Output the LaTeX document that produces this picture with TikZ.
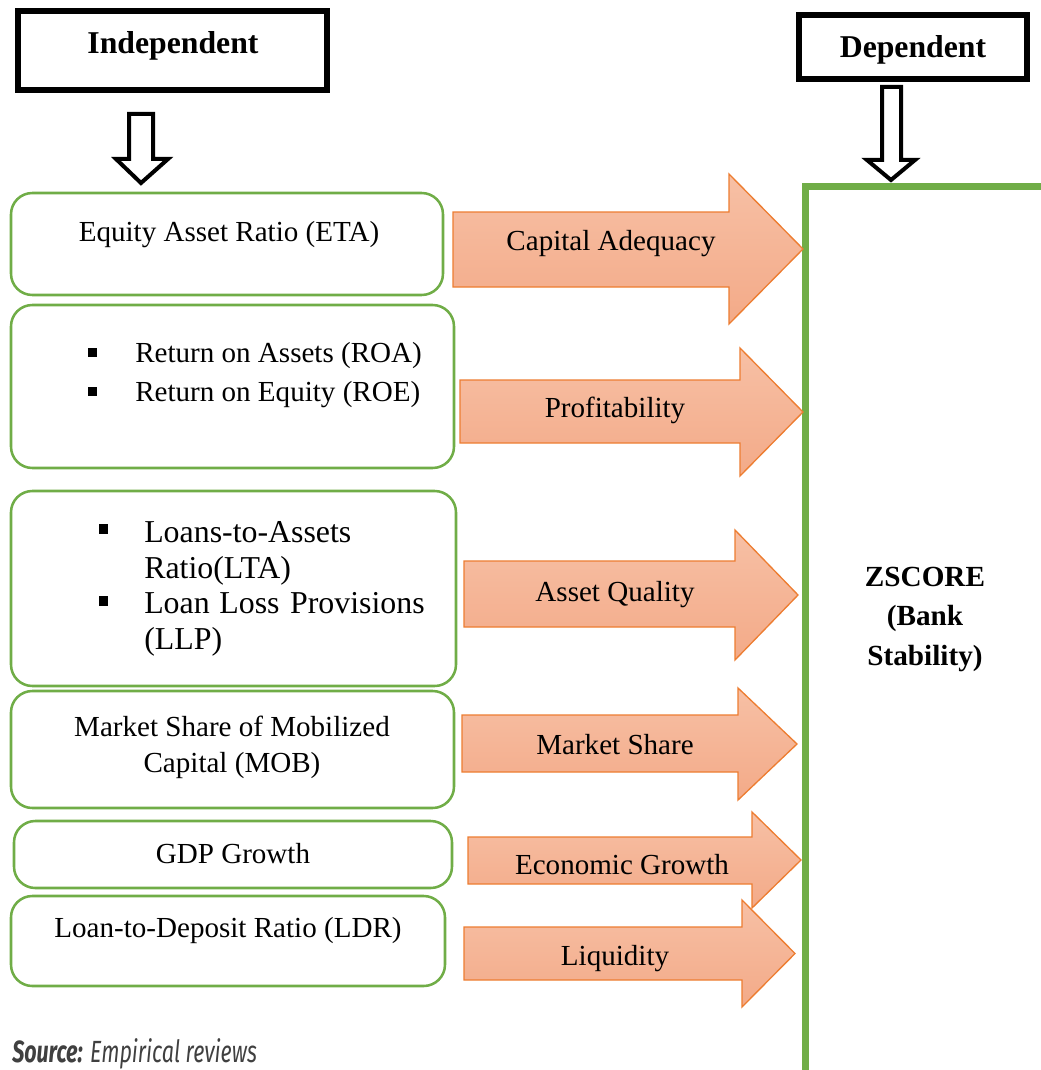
\documentclass[tikz,border=0pt]{standalone}
\usepackage{fontspec}
\usepackage{graphicx}
\setmainfont{Liberation Serif}
\newfontfamily\srcfont{Fira Sans}
\definecolor{grn}{HTML}{70AD47}
\definecolor{orline}{HTML}{ED7D31}
\definecolor{ortop}{HTML}{F7C0A5}
\definecolor{orbot}{HTML}{F3AA88}
\definecolor{srcgray}{HTML}{404040}
\tikzset{
  gbox/.style={draw=grn, line width=1.9pt, rounded corners=16pt},
  bigbox/.style={draw=grn, line width=5.25pt},
  headbox/.style={draw=black, line width=4.5pt},
  hollow/.style={draw=black, line width=3pt, line join=miter, fill=white},
  oarrow/.style={draw=orline, line width=1pt, top color=ortop, bottom color=orbot, line join=miter},
  txt/.style={inner sep=0pt, font=\fontsize{21.8}{26}\selectfont},
  bigtxt/.style={inner sep=0pt, font=\fontsize{23.9}{28}\selectfont},
  headtxt/.style={inner sep=0pt, font=\fontsize{23.8}{28}\selectfont\bfseries},
  ztxt/.style={inner sep=0pt, font=\fontsize{21.9}{26}\selectfont\bfseries},
  bul/.style={fill=black, minimum size=7.2pt, inner sep=0pt},
}
% #1 name, #2 body left, #3 head base x, #4 body top, #5 body bottom, #6 head top, #7 head bottom, #8 tip x
\newcommand\orarrow[8]{%
  \coordinate (#1tail) at (#2,{(#4+#5)/2});
  \coordinate (#1tip) at (#8,{(#6+#7)/2});
  \draw[oarrow] (#2,#4) -- (#3,#4) -- (#3,#6) -- (#1tip) -- (#3,#7) -- (#3,#5) -- (#2,#5) -- cycle;
}
\begin{document}
\begin{tikzpicture}[x=0.75pt,y=-0.75pt]
\useasboundingbox (0,0) rectangle (1040,1070);

% dependent big box
\draw[bigbox] (805,186) rectangle (1060,1090);
\node[ztxt, anchor=base] (z1) at (925,586) {ZSCORE};
\node[ztxt, anchor=base] (z2) at (925,625) {(Bank};
\node[ztxt, anchor=base] (z3) at (925,665) {Stability)};

% heading boxes
\draw[headbox] (18,11) rectangle (327,90);
\node[headtxt, anchor=base] (indep) at (173,54) {Independent};
\draw[headbox] (799,15) rectangle (1027,79);
\node[headtxt, anchor=base] (dep) at (913,58) {Dependent};

% hollow arrows
\coordinate (ia) at (141,114);
\coordinate (ib) at (141,183);
\draw[hollow] (129,114) -- (153,114) -- (153,159) -- (168,159) -- (ib) -- (116,159) -- (129,159) -- cycle;
\coordinate (da) at (891,87);
\coordinate (db) at (891,180);
\draw[hollow] (882,87) -- (901,87) -- (901,160) -- (915,160) -- (db) -- (867,160) -- (882,160) -- cycle;

% left boxes
\draw[gbox] (11,193) rectangle (443,295);
\node[txt, anchor=base] (eta) at (229,241) {Equity Asset Ratio (ETA)};

\draw[gbox] (11,305) rectangle (454,468);
\node[bul] (b1) at (92.5,352.5) {};
\node[txt, anchor=base west] (roa) at (135,362) {Return on Assets (ROA)};
\node[bul] (b2) at (92.5,391.5) {};
\node[txt, anchor=base west] (roe) at (135,401) {Return on Equity (ROE)};

\draw[gbox] (11,491) rectangle (456,686);
\node[bul] (b3) at (103.5,529) {};
\node[bigtxt, anchor=base west] (lta1) at (144,542) {Loans-to-Assets};
\node[bigtxt, anchor=base west] (lta2) at (144,578) {Ratio(LTA)};
\node[bul] (b4) at (103.5,601) {};
\node[bigtxt, anchor=base west] (llp1) at (144,613) {Loan};
\node[bigtxt, anchor=base] (llp2) at (249.5,613) {Loss};
\node[bigtxt, anchor=base east] (llp3) at (425,613) {Provisions};
\node[bigtxt, anchor=base west] (llp4) at (144,649) {(LLP)};

\draw[gbox] (11,691) rectangle (454,808);
\node[txt, anchor=base] (mob1) at (232,736) {Market Share of Mobilized};
\node[txt, anchor=base] (mob2) at (232,772) {Capital (MOB)};

\draw[gbox] (14,821) rectangle (452,888);
\node[txt, anchor=base] (gdp) at (233,863) {GDP Growth};

\draw[gbox] (11,896) rectangle (445,986);
\node[txt, anchor=base] (ldr) at (228,937) {Loan-to-Deposit Ratio (LDR)};

% orange arrows
\orarrow{a1}{453}{729}{212}{287}{174}{324}{803}
\node[txt, anchor=base] (l1) at (611,250) {Capital Adequacy};
\orarrow{a2}{460}{740}{380}{443}{348}{476}{803}
\node[txt, anchor=base] (l2) at (615,417) {Profitability};
\orarrow{a3}{464}{735}{561}{627}{530}{660}{798}
\node[txt, anchor=base] (l3) at (615,601) {Asset Quality};
\orarrow{a4}{462}{738}{715}{772}{688}{800}{797}
\node[txt, anchor=base] (l4) at (615,754) {Market Share};
\orarrow{a5}{468}{752}{837}{884}{812}{908}{801}
\node[txt, anchor=base] (l5) at (622,874) {Economic Growth};
\orarrow{a6}{464}{742}{927}{980}{900}{1007}{795}
\node[txt, anchor=base] (l6) at (615,965) {Liquidity};

% source
\node[anchor=base west, inner sep=0pt, text=srcgray, font=\srcfont\fontsize{23}{27}\selectfont\itshape] (src) at (12,1062) {\scalebox{0.7}[1]{\textbf{Source:} Empirical reviews}};
\end{tikzpicture}
\end{document}
